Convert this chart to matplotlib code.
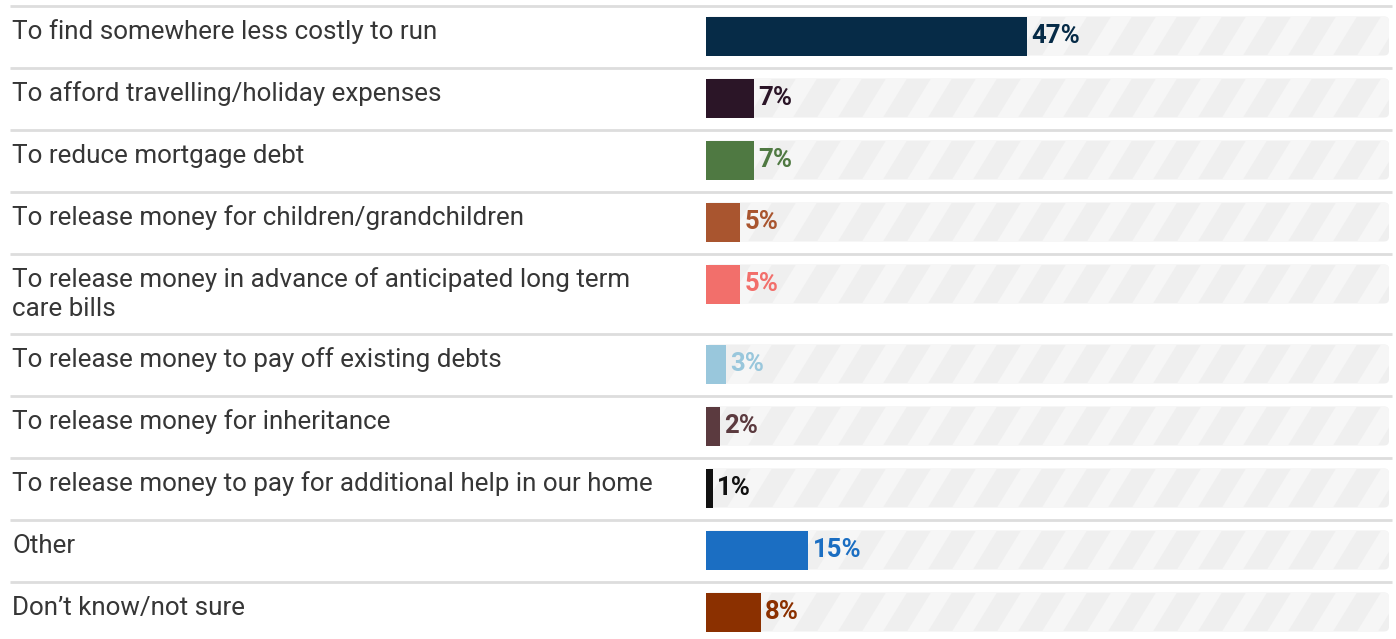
import numpy as np
import matplotlib.pyplot as plt
from matplotlib.patches import FancyBboxPatch, Polygon

plt.rcParams['font.family'] = ['Roboto', 'DejaVu Sans']

# reasons and share of respondents (%)
reasons = [
    'To find somewhere less costly to run',
    'To afford travelling/holiday expenses',
    'To reduce mortgage debt',
    'To release money for children/grandchildren',
    'To release money in advance of anticipated long term\ncare bills',
    'To release money to pay off existing debts',
    'To release money for inheritance',
    'To release money to pay for additional help in our home',
    'Other',
    "Don\u2019t know/not sure",
]
shares = [47, 7, 7, 5, 5, 3, 2, 1, 15, 8]
colors = ['#062b47', '#2b1527', '#4f7942', '#a9552f', '#f26f6b',
          '#99c7dc', '#5b3a3f', '#111111', '#1b6ec2', '#8b3000']

W, H = 1396, 639
fig = plt.figure(figsize=(W / 100, H / 100), dpi=100)

# pixel-space layer for rows, separators and labels
ax = fig.add_axes([0, 0, 1, 1])
ax.set_xlim(0, W)
ax.set_ylim(H, 0)
ax.axis('off')

# row layout: two-line label gets a taller row
row_h = [80 if '\n' in r else 62 for r in reasons]
tops = 6 + np.concatenate([[0], np.cumsum(row_h)[:-1]])
centers = tops + 30

for t in tops:
    ax.plot([10, 1392], [t, t], color='#dddddd', lw=2, solid_capstyle='butt')

for t, r in zip(tops, reasons):
    for i, line in enumerate(r.split('\n')):
        ax.text(12, t + 33 + i * 29, line, ha='left', va='baseline',
                fontsize=18.7, color='#363636')

# bar layer: x in percent, y in pixels
x0, x1 = 706, 1389
bx = fig.add_axes([x0 / W, 0, (x1 - x0) / W, 1])
bx.set_xlim(0, 100)
bx.set_ylim(H, 0)
bx.axis('off')
px = (x1 - x0) / 100.0  # pixels per percent

bar_h = 39
for c in centers:
    track = FancyBboxPatch((0, c - bar_h / 2), 100, bar_h,
                           boxstyle='round,pad=0,rounding_size=0.7',
                           mutation_aspect=px, fc='#efefef', ec='none', zorder=1)
    bx.add_patch(track)
    # diagonal light stripes clipped to the track
    period, band, lean = 45 / px, 21 / px, 24 / px
    for s in np.arange(-lean, 100 + period, period):
        stripe = Polygon([(s, c + bar_h / 2), (s + band, c + bar_h / 2),
                          (s + band + lean, c - bar_h / 2), (s + lean, c - bar_h / 2)],
                         closed=True, fc='#f6f6f6', ec='none', zorder=1.5)
        bx.add_patch(stripe)
        stripe.set_clip_path(track)

bx.barh(centers, shares, height=bar_h, color=colors, zorder=3)

for c, v, col in zip(centers, shares, colors):
    bx.text(v + 0.6, c + 7, f'{v}%', ha='left', va='baseline', fontsize=18.5,
            fontweight='bold', color=col, zorder=4)

fig.savefig('out.png', dpi=100, facecolor='white')
